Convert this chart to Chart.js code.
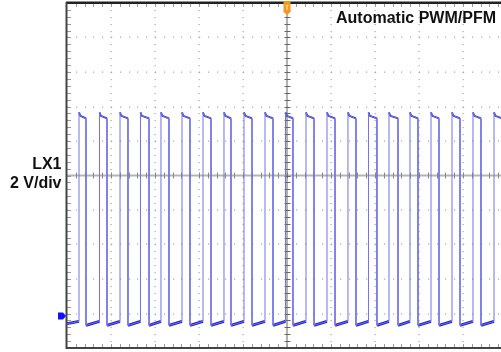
<!DOCTYPE html>
<html>
<head>
<meta charset="utf-8">
<script src="https://cdn.jsdelivr.net/npm/chart.js@4.4.0/dist/chart.umd.min.js"></script>
<style>
    html, body { margin: 0; padding: 0; background: #fff; overflow: hidden; }
    #wrap { position: relative; width: 501px; height: 352px; overflow: hidden; }
    canvas { position: absolute; left: 0; top: 0; }
    .lbl { position: absolute; font-family: Arial, "Liberation Sans", sans-serif; font-weight: bold;
           font-size: 16px; line-height: 16px; color: #111; white-space: nowrap; text-align: right; }
</style>
</head>
<body>
<div id="wrap">
    <canvas id="scope" width="512" height="352"></canvas>
    <div class="lbl" style="right:5px; top:9.5px;">Automatic PWM/PFM</div>
    <div class="lbl" style="right:439.5px; top:155.5px;">LX1</div>
    <div class="lbl" style="right:439.5px; top:174.5px;">2 V/div</div>
</div>
<script>
'use strict';

// time axis in divisions (0..10), voltage in volts (2 V/div)
const voltsPerDiv = 2;
const groundDiv = -4.07;      // ground marker, divisions from centre
const xDivs = 10;
const yDivs = 10;

// switching edges (divisions)
const riseTimes = [0.273, 0.739, 1.205, 1.670, 2.136, 2.614, 3.091, 3.568, 4.023, 4.500, 4.966,
                   5.432, 5.909, 6.386, 6.852, 7.318, 7.795, 8.273, 8.750, 9.227, 9.705];
const fallTimes = [0.432, 0.909, 1.386, 1.864, 2.318, 2.795, 3.273, 3.727, 4.205, 4.682, 5.136,
                   5.614, 6.091, 6.568, 7.045, 7.523, 7.977, 8.455, 8.932, 9.409, 9.886];

// levels (V)
const startVolts = -0.45;
const spikeVolts = 11.8;
const highVolts = 11.6;
const highEndVolts = 11.45;
const lowStartVolts = -0.55;
const lowEndVolts = -0.32;
const spikeLen = 0.03;

const yMin = (-yDivs / 2 - groundDiv) * voltsPerDiv;
const yMax = (yDivs / 2 - groundDiv) * voltsPerDiv;

// full trace
const trace = [{x: 0, y: startVolts}];
// plateaus (drawn thicker, they carry the noise)
const lowPlateaus = [{x: 0, y: startVolts}];
const highPlateaus = [];

for (let i = 0; i < riseTimes.length; i++) {
    trace.push({x: riseTimes[i], y: lowEndVolts});
    trace.push({x: riseTimes[i], y: spikeVolts});
    trace.push({x: riseTimes[i] + spikeLen, y: highVolts});
    trace.push({x: fallTimes[i], y: highEndVolts});
    trace.push({x: fallTimes[i], y: lowStartVolts});

    lowPlateaus.push({x: riseTimes[i], y: lowEndVolts});
    lowPlateaus.push({x: NaN, y: null});
    lowPlateaus.push({x: fallTimes[i], y: lowStartVolts});

    highPlateaus.push({x: riseTimes[i], y: spikeVolts});
    highPlateaus.push({x: riseTimes[i] + spikeLen, y: highVolts});
    highPlateaus.push({x: fallTimes[i], y: highEndVolts});
    highPlateaus.push({x: NaN, y: null});
}
trace.push({x: xDivs, y: lowEndVolts});
lowPlateaus.push({x: xDivs, y: lowEndVolts});

const scopeGrid = {
    id: 'scopeGrid',
    beforeDatasetsDraw(chart) {
        const ctx = chart.ctx;
        const sx = chart.scales.x;
        const sy = chart.scales.y;
        const px = d => sx.getPixelForValue(d);
        const py = d => sy.getPixelForValue(yMin + d * voltsPerDiv);
        const a = chart.chartArea;
        ctx.save();

        // dotted major grid
        ctx.fillStyle = '#a8a8a8';
        for (let k = 1; k < xDivs; k++) {
            if (k === xDivs / 2) continue;
            for (let m = 0; m <= yDivs * 5; m++) {
                ctx.fillRect(Math.round(px(k)) - 0.5, Math.round(py(m / 5)), 1.2, 1.2);
            }
        }
        for (let k = 1; k < yDivs; k++) {
            if (k === yDivs / 2) continue;
            for (let m = 0; m <= xDivs * 5; m++) {
                ctx.fillRect(Math.round(px(m / 5)), Math.round(py(k)) - 0.5, 1.2, 1.2);
            }
        }

        // centre horizontal
        const cy = py(yDivs / 2);
        ctx.fillStyle = '#b4b4b4';
        ctx.fillRect(a.left, cy - 1, a.right - a.left, 2);
        ctx.fillStyle = '#888';
        for (let m = 1; m < xDivs * 5; m++) {
            ctx.fillRect(Math.round(px(m / 5)), cy - 3, 1, 6);
        }

        // centre vertical
        const cx = px(xDivs / 2);
        ctx.fillStyle = '#666';
        ctx.fillRect(cx - 0.5, a.top, 1, a.bottom - a.top);
        for (let m = 1; m < yDivs * 5; m++) {
            ctx.fillRect(cx - 2.5, Math.round(py(m / 5)), 6, 1);
        }

        // border ticks
        ctx.fillStyle = '#999';
        for (let m = 1; m < xDivs * 5; m++) {
            ctx.fillRect(Math.round(px(m / 5)), a.top, 1, 4);
            ctx.fillRect(Math.round(px(m / 5)), a.bottom - 4, 1, 4);
        }
        for (let m = 1; m < yDivs * 5; m++) {
            ctx.fillRect(a.left, Math.round(py(m / 5)), 4, 1);
        }

        // frame
        ctx.fillStyle = '#222';
        ctx.fillRect(a.left - 1, a.top - 1.5, a.right - a.left + 2, 2.5);
        ctx.fillStyle = '#444';
        ctx.fillRect(a.left - 1.5, a.top - 1, 2, a.bottom - a.top + 2);
        ctx.fillRect(a.left - 1, a.bottom - 1, a.right - a.left + 2, 2);
        ctx.restore();
    },
    afterDatasetsDraw(chart) {
        const ctx = chart.ctx;
        const sx = chart.scales.x;
        const sy = chart.scales.y;
        const a = chart.chartArea;
        ctx.save();

        // trigger marker
        const tx = sx.getPixelForValue(xDivs / 2);
        ctx.fillStyle = '#f29a1e';
        ctx.beginPath();
        ctx.moveTo(tx - 3.5, 1);
        ctx.lineTo(tx + 3.5, 1);
        ctx.lineTo(tx + 3.5, 12);
        ctx.lineTo(tx, 15);
        ctx.lineTo(tx - 3.5, 12);
        ctx.closePath();
        ctx.fill();
        ctx.fillStyle = '#fde2b8';
        ctx.fillRect(tx - 1.5, 5, 3, 1);
        ctx.fillRect(tx - 0.5, 5, 1, 5);

        // ground marker
        const gy = sy.getPixelForValue(0);
        ctx.fillStyle = '#1010ff';
        ctx.beginPath();
        ctx.moveTo(a.left - 9, gy - 3.5);
        ctx.lineTo(a.left - 4, gy - 3.5);
        ctx.lineTo(a.left - 1, gy);
        ctx.lineTo(a.left - 4, gy + 3.5);
        ctx.lineTo(a.left - 9, gy + 3.5);
        ctx.closePath();
        ctx.fill();
        ctx.restore();
    }
};

new Chart(document.getElementById('scope').getContext('2d'), {
    type: 'line',
    data: {
        datasets: [
            {
                data: trace,
                borderColor: '#7272e6',
                borderWidth: 1,
                pointRadius: 0,
                tension: 0
            },
            {
                data: lowPlateaus,
                borderColor: '#1c1cd2',
                borderWidth: 2.8,
                pointRadius: 0,
                spanGaps: false,
                tension: 0
            },
            {
                data: highPlateaus,
                borderColor: '#2a2ad6',
                borderWidth: 1.8,
                pointRadius: 0,
                spanGaps: false,
                tension: 0
            }
        ]
    },
    options: {
        responsive: false,
        animation: false,
        layout: { padding: { left: 67, top: 3, right: 5, bottom: 4 } },
        scales: {
            x: { type: 'linear', min: 0, max: xDivs, display: false },
            y: { type: 'linear', min: yMin, max: yMax, display: false }
        },
        plugins: {
            legend: { display: false },
            tooltip: { enabled: false }
        }
    },
    plugins: [scopeGrid]
});
</script>
</body>
</html>
